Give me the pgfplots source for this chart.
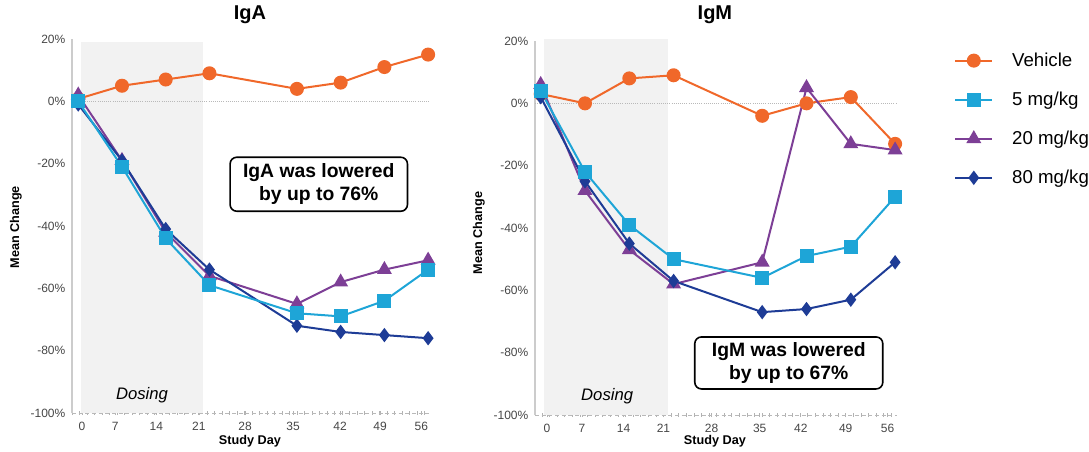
\documentclass[border=0pt]{standalone}
\usepackage{pgfplots}
\pgfplotsset{compat=1.18}
\usepackage{fontspec}
\setmainfont{Liberation Sans}
\definecolor{cveh}{RGB}{240,104,42}
\definecolor{cfive}{RGB}{30,165,215}
\definecolor{ctwenty}{RGB}{125,63,150}
\definecolor{ceighty}{RGB}{30,60,150}
\definecolor{shade}{RGB}{242,242,242}
\definecolor{ticktext}{RGB}{70,70,70}
\pgfplotsset{
  panel/.style={
    scale only axis, width=268.5pt, height=280.5pt,
    anchor=south west, clip=false,
    ymin=-100, ymax=20,
    ytick={-100,-80,-60,-40,-20,0,20},
    yticklabels={-100\%,-80\%,-60\%,-40\%,-20\%,0\%,20\%},
    xticklabels={0,7,14,21,28,35,42,49,56},
    axis x line=bottom, axis y line=left,
    x axis line style={-, gray!55, densely dashed, line width=0.6pt},
    y axis line style={-, gray!40, line width=0.8pt},
    ytick style={draw=none},
    xtick style={gray!60, line width=0.5pt},
    minor xtick={0,1.2,...,57.6},
    minor tick length=3pt, major tick length=3pt,
    tick align=center,
    /pgf/number format/assume math mode=true,
    ticklabel style={font=\fontsize{9}{10}\selectfont, text=ticktext},
    xticklabel style={yshift=-2pt},
    xlabel={Study Day}, ylabel={Mean Change},
    label style={font=\fontsize{9.5}{11}\bfseries\selectfont},
  },
  ser/.style={color=#1, line width=1.5pt, mark options={solid, fill=#1}},
}
\begin{document}
\begin{tikzpicture}
% ---------- IgA ----------
\begin{axis}[panel, at={(54pt,-309.75pt)},
  xmin=0, xmax=57.3,
  xtick={1.6,6.9,13.5,20.3,27.7,35.4,42.9,49.3,55.9},
  xlabel style={at={(axis description cs:0.497,-0.076)}, anchor=center},
  ylabel style={at={(axis description cs:-0.157,0.497)}, anchor=center},
]
\addplot[draw=none, fill=shade, forget plot] coordinates {(1.4,-100)(1.4,19)(21,19)(21,-100)} -- cycle;
\addplot[gray!55, densely dotted, line width=0.6pt, forget plot] coordinates {(0,0)(57.3,0)};
\addplot[ser=cveh, mark=*, mark size=4.5pt] coordinates {(1,0.8)(8,5)(15,7)(22,9)(36,4)(43,6)(50,11)(57,15)};
\addplot[ser=ctwenty, mark=triangle*, mark size=5pt] coordinates {(1,2)(8,-19)(15,-42)(22,-56)(36,-65)(43,-58)(50,-54)(57,-51)};
\addplot[ser=ceighty, mark=diamond*, mark size=4.2pt] coordinates {(1,-1)(8,-19)(15,-41)(22,-54)(36,-72)(43,-74)(50,-75)(57,-76)};
\addplot[ser=cfive, mark=square*, mark size=4.5pt] coordinates {(1,0)(8,-21)(15,-44)(22,-59)(36,-68)(43,-69)(50,-64)(57,-54)};
\node[font=\fontsize{15}{17}\bfseries\selectfont, anchor=center] at (axis description cs:0.497,1.064) {IgA};
\node[font=\fontsize{12.5}{14}\itshape\selectfont] at (axis cs:11.2,-94.4) {Dosing};
\node[draw, rounded corners=5pt, line width=1.2pt, align=center, minimum width=133pt, minimum height=40.5pt, inner sep=0pt,
  font=\fontsize{14.5}{17}\bfseries\selectfont] at (axis cs:39.5,-26.6) {IgA was lowered\\by up to 76\%};
\end{axis}
% ---------- IgM ----------
\begin{axis}[panel, at={(401.25pt,-311.25pt)}, width=271.5pt,
  xmin=0.1, xmax=57.3,
  xtick={2.0,7.5,14.1,20.4,28.0,35.6,42.1,49.2,55.8},
  xlabel style={at={(axis description cs:0.497,-0.071)}, anchor=center},
  ylabel style={at={(axis description cs:-0.155,0.487)}, anchor=center},
  legend style={at={(1.146,0.983)}, anchor=north west, draw=none, fill=none,
    font=\fontsize{14}{16}\selectfont, row sep=13.8pt,
    /tikz/every odd column/.append style={column sep=12pt},
    /tikz/every even column/.append style={text height=10pt, text depth=3.5pt}},
  legend cell align=left,
  legend image code/.code={\draw[mark repeat=2, mark phase=2] plot coordinates {(0pt,0pt)(14pt,0pt)(28pt,0pt)};},
]
\addplot[draw=none, fill=shade, forget plot] coordinates {(1.5,-100)(1.5,20.5)(21.1,20.5)(21.1,-100)} -- cycle;
\addplot[gray!55, densely dotted, line width=0.6pt, forget plot] coordinates {(0.1,0)(57.3,0)};
\addlegendimage{ser=cveh, mark=*, mark size=4.5pt}
\addlegendentry{Vehicle}
\addlegendimage{ser=cfive, mark=square*, mark size=4.5pt}
\addlegendentry{5 mg/kg}
\addlegendimage{ser=ctwenty, mark=triangle*, mark size=5pt}
\addlegendentry{20 mg/kg}
\addlegendimage{ser=ceighty, mark=diamond*, mark size=4.2pt}
\addlegendentry{80 mg/kg}
\addplot[ser=cveh, mark=*, mark size=4.5pt, forget plot] coordinates {(1,3)(8,0)(15,8)(22,9)(36,-4)(43,0)(50,2)(57,-13)};
\addplot[ser=ctwenty, mark=triangle*, mark size=5pt, forget plot] coordinates {(1,6)(8,-28)(15,-47)(22,-58)(36,-51)(43,5)(50,-13)(57,-15)};
\addplot[ser=ceighty, mark=diamond*, mark size=4.2pt, forget plot] coordinates {(1,2)(8,-25)(15,-45)(22,-57)(36,-67)(43,-66)(50,-63)(57,-51)};
\addplot[ser=cfive, mark=square*, mark size=4.5pt, forget plot] coordinates {(1,4)(8,-22)(15,-39)(22,-50)(36,-56)(43,-49)(50,-46)(57,-30)};
\node[font=\fontsize{15}{17}\bfseries\selectfont, anchor=center] at (axis description cs:0.497,1.07) {IgM};
\node[font=\fontsize{12.5}{14}\itshape\selectfont] at (axis cs:11.5,-93.9) {Dosing};
\node[draw, rounded corners=5pt, line width=1.2pt, align=center, minimum width=141pt, minimum height=39pt, inner sep=0pt,
  font=\fontsize{14.5}{17}\bfseries\selectfont] at (axis cs:40.2,-83.3) {IgM was lowered\\by up to 67\%};
\end{axis}
\pgfresetboundingbox
\path[use as bounding box] (0,0) rectangle (816.75pt,-339pt);
\end{tikzpicture}
\end{document}
